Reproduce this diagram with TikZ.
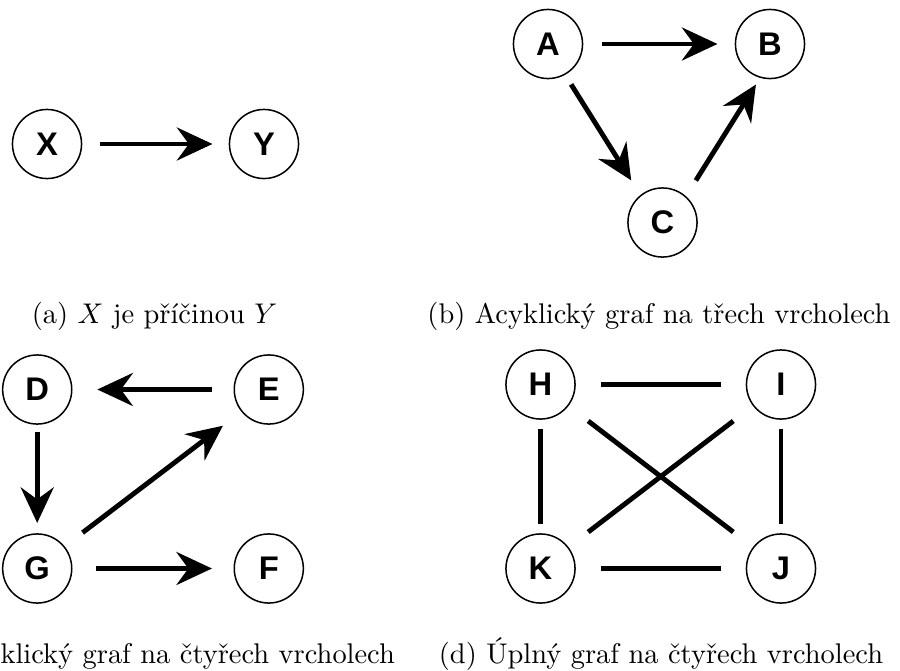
\documentclass[tikz,border=0pt]{standalone}
\usepackage{fontspec}
\newfontfamily\vertexfont{Liberation Sans}
\usetikzlibrary{arrows.meta}
\begin{document}
\begin{tikzpicture}[x=0.3517pt, y=-0.3517pt,
  vertex/.style={circle, draw, line width=0.53pt, minimum size=24.3pt,
    inner sep=0pt, outer sep=0pt, font=\vertexfont\bfseries\fontsize{11.5}{13}\selectfont},
  link/.style={line width=1.72pt},
  arc/.style={link, -{Stealth[length=12.5pt, width=11.6pt, inset=4.2pt]}},
  subcap/.style={anchor=base, inner sep=0pt, font=\fontsize{10}{12}\selectfont}
]
\clip (0,0) rectangle (900,671);

% (a) two vertices
\node[vertex] (X) at (47,144) {X};
\node[vertex] (Y) at (264,144) {Y};
\draw[arc, shorten <=6.33pt, shorten >=5.98pt] (X) -- (Y);
\node[subcap] (capa) at (154.5,323) {(a) $X$ je příčinou $Y$};

% (b) acyclic graph on three vertices
\node[vertex] (A) at (548,44) {A};
\node[vertex] (B) at (770,44) {B};
\node[vertex] (C) at (662.5,222.5) {C};
\draw[arc, shorten <=6.68pt, shorten >=6.33pt] (A) -- (B);
\draw[arc, shorten <=4.22pt, shorten >=6.33pt] (A.-61.8) -- (C.129.6);
\draw[arc, shorten <=6.79pt, shorten >=3.02pt] (C.48.8) -- (B.254.5);
\node[subcap] (capb) at (659,323) {(b) Acyklický graf na třech vrcholech};

% (c) acyclic graph on four vertices
\node[vertex] (D) at (37.2,389.5) {D};
\node[vertex] (E) at (268.8,389.5) {E};
\node[vertex] (G) at (37.2,568.5) {G};
\node[vertex] (F) at (268.8,568.5) {F};
\draw[arc, shorten <=7.74pt, shorten >=9.0pt] (E) -- (D);
\draw[arc, shorten <=2.81pt, shorten >=3.87pt] (D) -- (G);
\draw[arc, shorten <=8.19pt, shorten >=8.41pt] (G.39.2) -- (E.219.9);
\draw[arc, shorten <=8.55pt, shorten >=7.84pt] (G) -- (F);
\node[subcap] (capc) at (151.5,663) {(c) Acyklický graf na čtyřech vrcholech};

% (d) complete graph on four vertices
\node[vertex] (H) at (540.5,384.5) {H};
\node[vertex] (I) at (781,384.5) {I};
\node[vertex] (K) at (540.5,568.5) {K};
\node[vertex] (J) at (781,568.5) {J};
\draw[link, shorten <=9.1pt, shorten >=9.1pt] (H) -- (I);
\draw[link, shorten <=3.34pt, shorten >=3.34pt] (H) -- (K);
\draw[link, shorten <=3.34pt, shorten >=3.34pt] (I) -- (J);
\draw[link, shorten <=9.1pt, shorten >=9.1pt] (K) -- (J);
\draw[link, shorten <=8.97pt, shorten >=8.97pt] (H) -- (J);
\draw[link, shorten <=8.97pt, shorten >=8.97pt] (I) -- (K);
\node[subcap] (capd) at (661,663) {(d) Úplný graf na čtyřech vrcholech};
\end{tikzpicture}
\end{document}
